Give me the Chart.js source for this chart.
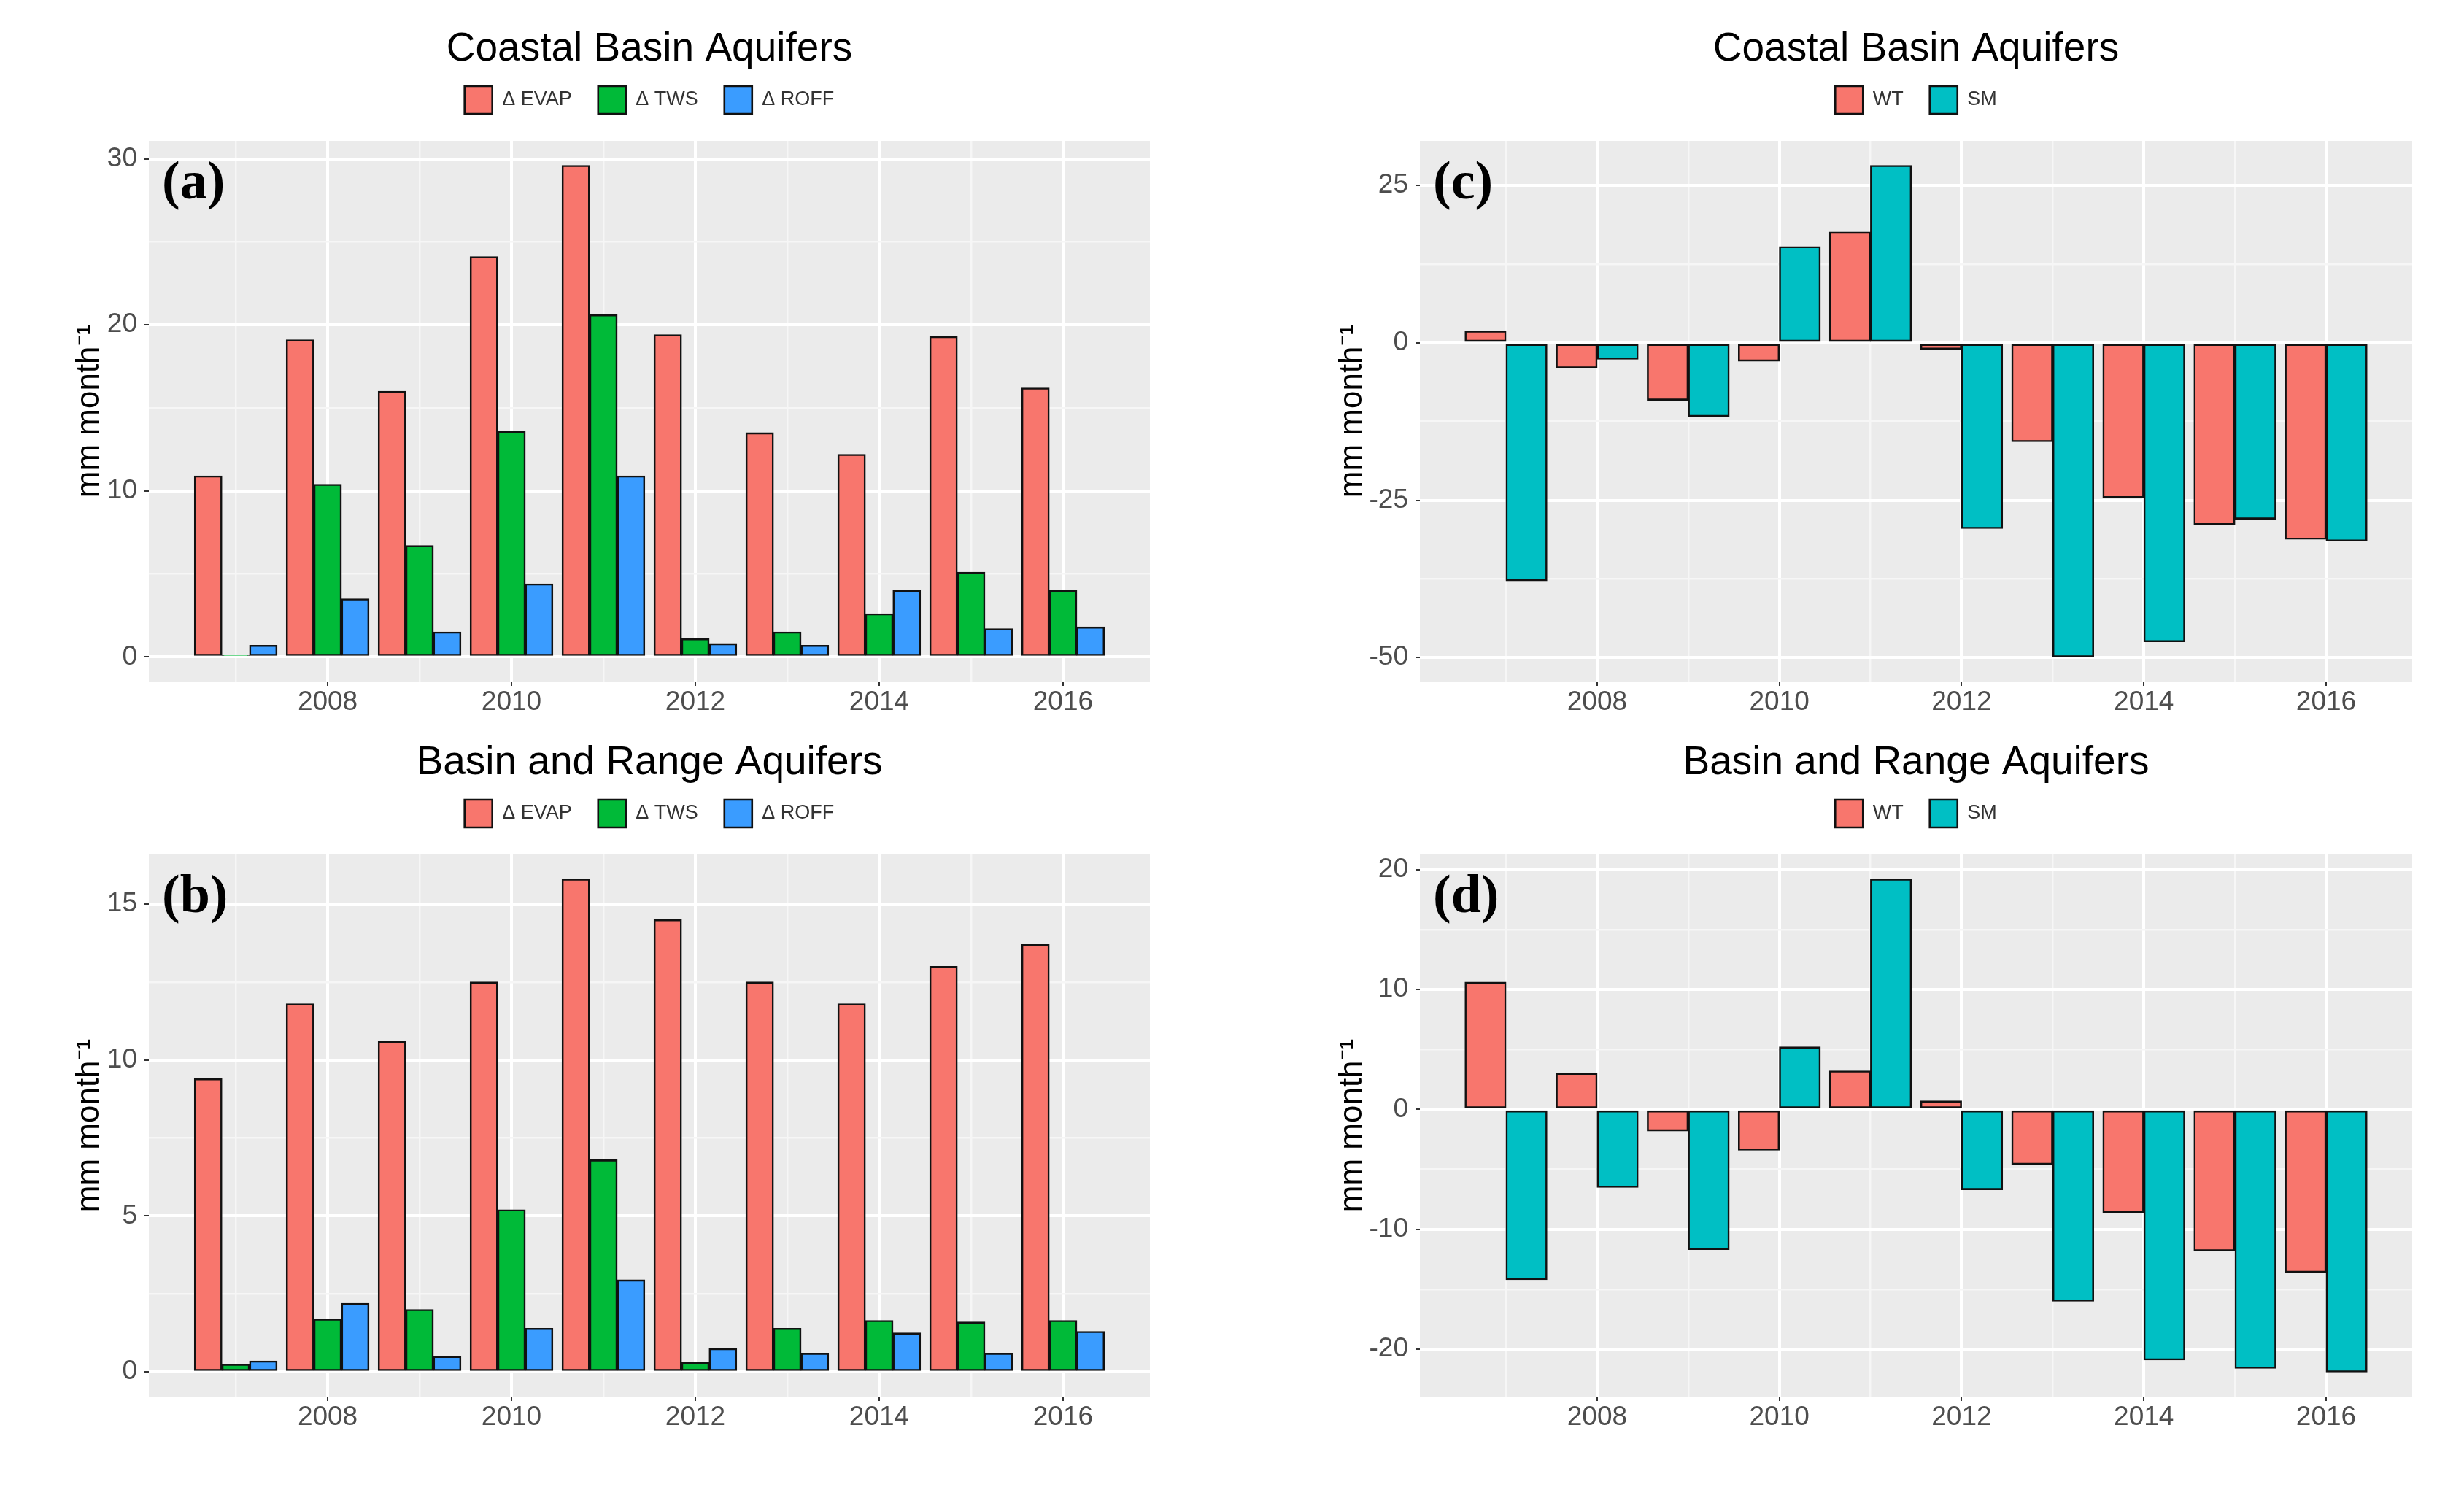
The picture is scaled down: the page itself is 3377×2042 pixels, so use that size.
<!DOCTYPE html>
<html>
<head>
<meta charset="utf-8">
<script src="https://cdn.jsdelivr.net/npm/chart.js@4.4.1/dist/chart.umd.min.js"></script>
<style>
html,body{margin:0;padding:0;background:#ffffff;width:3377px;height:2042px;overflow:hidden;}
canvas{position:absolute;display:block;}
</style>
</head>
<body>
<canvas id="ca" width="1690" height="978" style="left:0px;top:0px;width:1690px;height:978px"></canvas>
<canvas id="cb" width="1690" height="1064" style="left:0px;top:978px;width:1690px;height:1064px"></canvas>
<canvas id="cc" width="1687" height="978" style="left:1690px;top:0px;width:1687px;height:978px"></canvas>
<canvas id="cd" width="1687" height="1064" style="left:1690px;top:978px;width:1687px;height:1064px"></canvas>
<script>
// ---------------- data ----------------
const years = [2007, 2008, 2009, 2010, 2011, 2012, 2013, 2014, 2015, 2016];
const xTickLabels = [2008, 2010, 2012, 2014, 2016];

// Coastal Basin Aquifers (a)
const coastalEvap = [10.9, 19.1, 16.0, 24.1, 29.6, 19.4, 13.5, 12.2, 19.3, 16.2];
const coastalTws  = [0.1, 10.4, 6.7, 13.6, 20.6, 1.1, 1.5, 2.6, 5.1, 4.0];
const coastalRoff = [0.7, 3.5, 1.5, 4.4, 10.9, 0.8, 0.7, 4.0, 1.7, 1.8];
// Basin and Range Aquifers (b)
const basinEvap = [9.4, 11.8, 10.6, 12.5, 15.8, 14.5, 12.5, 11.8, 13.0, 13.7];
const basinTws  = [0.25, 1.7, 2.0, 5.2, 6.8, 0.3, 1.4, 1.65, 1.6, 1.65];
const basinRoff = [0.35, 2.2, 0.5, 1.4, 2.95, 0.75, 0.6, 1.25, 0.6, 1.3];
// Coastal Basin Aquifers (c)
const coastalWt = [1.9, -4.0, -9.1, -2.9, 17.6, -1.0, -15.7, -24.6, -28.9, -31.2];
const coastalSm = [-37.8, -2.6, -11.7, 15.3, 28.2, -29.5, -49.9, -47.5, -28.0, -31.5];
// Basin and Range Aquifers (d)
const basinWt = [10.6, 3.0, -1.8, -3.4, 3.2, 0.7, -4.6, -8.6, -11.8, -13.6];
const basinSm = [-14.2, -6.5, -11.7, 5.2, 19.2, -6.7, -16.0, -20.9, -21.6, -21.9];

// y tick labels
const yTicksA = [0, 10, 20, 30];
const yTicksB = [0, 5, 10, 15];
const yTicksC = [-50, -25, 0, 25];
const yTicksD = [-20, -10, 0, 10, 20];

const fluxNames = ['\u0394 EVAP', '\u0394 TWS', '\u0394 ROFF'];
const storeNames = ['WT', 'SM'];
const titleCoastal = 'Coastal Basin Aquifers';
const titleBasin = 'Basin and Range Aquifers';
const yTitle = 'mm month\u207B\u00B9';

// ---------------- styling ----------------
const SANS = '"Liberation Sans", Arial, Helvetica, sans-serif';
const SERIF = '"Liberation Serif", "Times New Roman", serif';
const fluxColors = ['#F8766D', '#00BA38', '#3A9CFF'];
const storeColors = ['#F8766D', '#00BFC4'];

function expandRange(arrs) {
  let lo = 0, hi = 0;
  arrs.forEach(a => a.forEach(v => { lo = Math.min(lo, v); hi = Math.max(hi, v); }));
  const pad = (hi - lo) * 0.05;
  return [lo - pad, hi + pad];
}
function minorBreaks(majors, lo, hi) {
  const step = majors[1] - majors[0];
  const out = [];
  for (let v = majors[0] - step / 2; v <= hi; v += step) {
    if (v >= lo && v <= hi) out.push(v);
  }
  return out;
}

const panelBg = {
  id: 'panelBg',
  beforeDraw(chart) {
    const {ctx, chartArea: a} = chart;
    ctx.save();
    ctx.fillStyle = '#EBEBEB';
    ctx.fillRect(a.left, a.top, a.right - a.left, a.bottom - a.top);
    ctx.restore();
  }
};
const panelTag = {
  id: 'panelTag',
  afterDraw(chart, args, opts) {
    const {ctx, chartArea: a} = chart;
    ctx.save();
    ctx.font = 'bold 74px ' + SERIF;
    ctx.fillStyle = '#000';
    ctx.textAlign = 'left';
    ctx.textBaseline = 'alphabetic';
    ctx.fillText(opts.text, a.left + 18, a.top + 79);
    ctx.restore();
  }
};
function spacer(h) {
  return {
    id: 'spacer',
    beforeInit(chart) {
      const box = {
        position: 'top', weight: 1, fullSize: false,
        options: {stackWeight: 1},
        left: 0, top: 0, right: 0, bottom: 0, width: 0, height: h,
        isHorizontal() { return true; },
        update(maxWidth) { this.width = maxWidth; this.height = h; },
        draw() {}
      };
      Chart.layouts.addBox(chart, box);
    }
  };
}

function makePanel(id, cfg) {
  const [ymin, ymax] = expandRange(cfg.series);
  const yMinor = minorBreaks(cfg.yMajors, ymin, ymax);
  const yAll = cfg.yMajors.concat(yMinor).filter(v => v >= ymin && v <= ymax).sort((a, b) => a - b);
  const span = years[years.length - 1] - years[0] + 0.9;
  const xMin = years[0] - 0.45 - 0.05 * span;
  const xMax = years[years.length - 1] + 0.45 + 0.05 * span;
  const isXMajor = v => xTickLabels.includes(v);
  const isYMajor = v => cfg.yMajors.includes(v);

  const datasets = cfg.series.map((vals, i) => ({
    label: cfg.names[i],
    data: years.map((yr, j) => ({x: yr, y: vals[j]})),
    backgroundColor: cfg.colors[i],
    borderColor: '#111111',
    borderWidth: 2.6,
    borderSkipped: false,
    categoryPercentage: 0.9,
    barPercentage: 1.0,
    inflateAmount: 0.5
  }));

  return new Chart(document.getElementById(id), {
    type: 'bar',
    data: {datasets},
    plugins: [panelBg, panelTag, spacer(27)],
    options: {
      responsive: false,
      devicePixelRatio: 1,
      animation: false,
      layout: {padding: {top: 35, left: 0, right: cfg.rightPad, bottom: 0}},
      plugins: {
        tooltip: {enabled: false},
        panelTag: {text: cfg.tag},
        title: {
          display: true, text: cfg.title, fullSize: false, color: '#000',
          font: {family: SANS, size: 55, weight: 'normal', lineHeight: 1.2},
          padding: {top: 0, bottom: -19}
        },
        legend: {
          display: true, position: 'top', fullSize: false, align: 'center',
          labels: {boxWidth: 38, boxHeight: 38, padding: 36, color: '#333333',
                   font: {family: SANS, size: 27}}
        }
      },
      scales: {
        x: {
          type: 'linear', min: xMin, max: xMax, offset: false,
          afterBuildTicks: s => { s.ticks = years.map(v => ({value: v})); },
          afterFit: s => { s.height = cfg.xAxisHeight; },
          border: {display: false},
          grid: {
            offset: false, drawTicks: true, tickLength: 6,
            color: c => (c.tick && isXMajor(c.tick.value)) ? '#FFFFFF' : '#F6F6F6',
            lineWidth: c => (c.tick && isXMajor(c.tick.value)) ? 4 : 2.5,
            tickColor: c => (c.tick && isXMajor(c.tick.value)) ? '#333333' : 'rgba(0,0,0,0)',
            tickWidth: 2
          },
          ticks: {
            autoSkip: false, maxRotation: 0, minRotation: 0, padding: 4,
            color: '#4D4D4D', font: {family: SANS, size: 37, lineHeight: 1.0},
            callback: v => isXMajor(v) ? String(v) : ''
          }
        },
        y: {
          type: 'linear', min: ymin, max: ymax,
          afterBuildTicks: s => { s.ticks = yAll.map(v => ({value: v})); },
          afterFit: s => { s.width = cfg.yAxisWidth; },
          border: {display: false},
          grid: {
            drawTicks: true, tickLength: 6,
            color: c => (c.tick && isYMajor(c.tick.value)) ? '#FFFFFF' : '#F6F6F6',
            lineWidth: c => (c.tick && isYMajor(c.tick.value)) ? 4 : 2.5,
            tickColor: c => (c.tick && isYMajor(c.tick.value)) ? '#333333' : 'rgba(0,0,0,0)',
            tickWidth: 2
          },
          ticks: {
            autoSkip: false, padding: 10,
            color: '#4D4D4D', font: {family: SANS, size: 37, lineHeight: 1.0},
            callback: v => isYMajor(v) ? String(v) : ''
          },
          title: {
            display: true, text: yTitle, color: '#000',
            font: {family: SANS, size: 44, lineHeight: 1.2},
            padding: {top: cfg.yTitlePad, bottom: 0}
          }
        }
      }
    }
  });
}

makePanel('ca', {title: titleCoastal, tag: '(a)', names: fluxNames, colors: fluxColors,
  series: [coastalEvap, coastalTws, coastalRoff], yMajors: yTicksA,
  yAxisWidth: 204, rightPad: 114, xAxisHeight: 44, yTitlePad: 96});
makePanel('cb', {title: titleBasin, tag: '(b)', names: fluxNames, colors: fluxColors,
  series: [basinEvap, basinTws, basinRoff], yMajors: yTicksB,
  yAxisWidth: 204, rightPad: 114, xAxisHeight: 128, yTitlePad: 96});
makePanel('cc', {title: titleCoastal, tag: '(c)', names: storeNames, colors: storeColors,
  series: [coastalWt, coastalSm], yMajors: yTicksC,
  yAxisWidth: 256, rightPad: 71, xAxisHeight: 44, yTitlePad: 137});
makePanel('cd', {title: titleBasin, tag: '(d)', names: storeNames, colors: storeColors,
  series: [basinWt, basinSm], yMajors: yTicksD,
  yAxisWidth: 256, rightPad: 71, xAxisHeight: 128, yTitlePad: 137});
</script>
</body>
</html>
